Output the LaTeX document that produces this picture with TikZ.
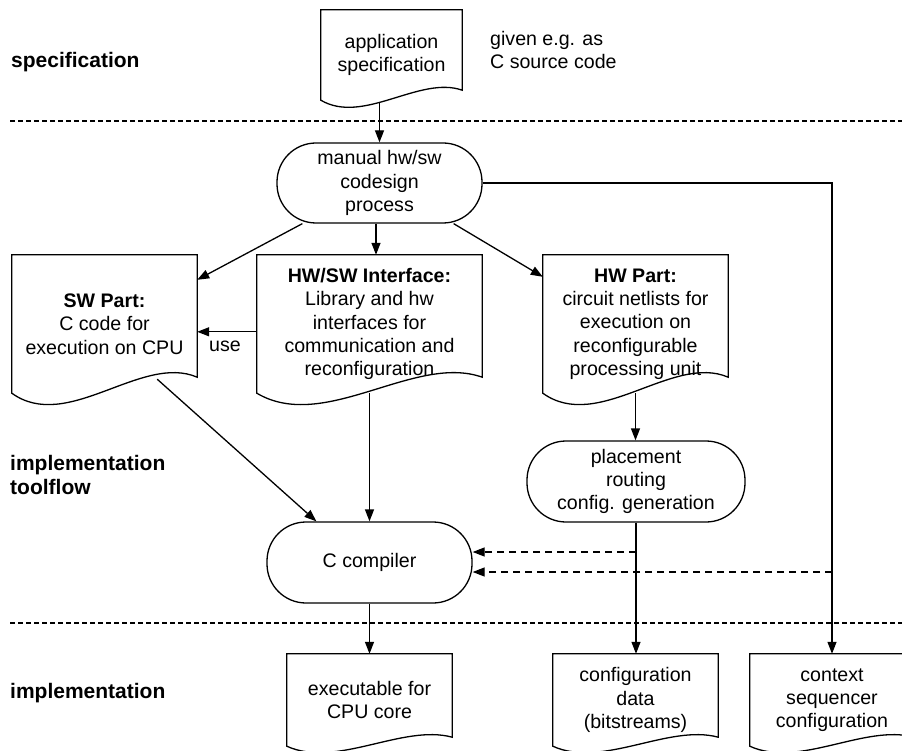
\documentclass[tikz,border=0pt]{standalone}
\usepackage{fontspec}
\setmainfont{Liberation Sans}
\usetikzlibrary{arrows.meta,calc}

% outline of a "document" node: straight top and sides, wavy bottom edge;
% #2 is how much higher the right end of the wave sits than the left end
\newcommand\docoutline[2]{%
  \draw[line width=1.3pt, line join=miter]
    (#1.south west) -- (#1.north west) -- (#1.north east)
    -- ($(#1.south east)+(0,-#2)$)
    .. controls ($(#1.south west)!0.7!(#1.south east)+(0,-2.5*#2)$)
           and ($(#1.south west)!0.3!(#1.south east)+(0,2.5*#2)$)
    .. (#1.south west) -- cycle;}

\begin{document}
\begin{tikzpicture}[x=1pt,y=-1pt,
  every node/.style={font=\fontsize{19.6}{23.3}\selectfont, align=center, inner sep=0pt},
  lbl/.style={font=\fontsize{21}{24}\selectfont\bfseries, align=left, anchor=west},
  note/.style={align=left, anchor=west},
  proc/.style={draw, line width=1.3pt, rounded corners=39pt,
               minimum width=#1, minimum height=81pt},
  doc/.style={minimum width=#1},
  conn/.style={line width=1.3pt, -{Triangle[length=12pt,width=9pt]}},
  dconn/.style={conn, dash pattern=on 7pt off 5pt},
  sep/.style={line width=1.2pt, dash pattern=on 5pt off 3pt}]

\useasboundingbox (0,0) rectangle (902,751);
\fill[white] (0,0) rectangle (902,751);
\clip (0,0) rectangle (902,751);

% phase labels and separators
\node[lbl] (lspec) at (11,62) {specification};
\node[lbl] (ltool) at (10,475) {implementation\\toolflow};
\node[lbl] (limpl) at (10,693) {implementation};
\draw[sep] (10,121) -- (902,121);
\draw[sep] (10,623) -- (902,623);

% specification
\node[doc=141pt, minimum height=90pt] (app) at (391.5,55) {application\\specification};
\docoutline{app}{10}
\node[note] (given) at (490,50) {given e.g. as\\C source code};

% codesign
\node[proc=205pt, minimum height=80pt] (man) at (379.5,183) {manual hw/sw\\codesign\\process};

\node[doc=185pt, minimum height=138pt] (sw) at (104.5,324)
  {\textbf{SW Part:}\\C code for\\execution on CPU};
\docoutline{sw}{16}
\node[doc=225pt, minimum height=138pt] (hwsw) at (369.5,324)
  {\textbf{HW/SW Interface:}\\Library and hw\\interfaces for\\communication and\\reconfiguration};
\docoutline{hwsw}{16}
\node[doc=185pt, minimum height=138pt] (hw) at (635.5,324)
  {\textbf{HW Part:}\\circuit netlists for\\execution on\\reconfigurable\\processing unit};
\docoutline{hw}{16}
\node (use) at (225,346) {use};

% tool flow
\node[proc=218pt] (pl) at (636,481.5) {placement\\routing\\config. generation};
\node[proc=205pt] (cc) at (369.5,562.5) {C compiler};

% results
\node[doc=165pt, minimum height=92pt] (exe) at (369.5,700) {executable for\\CPU core};
\docoutline{exe}{9}
\node[doc=165pt, minimum height=92pt] (cfg) at (635.5,700) {configuration\\data\\(bitstreams)};
\docoutline{cfg}{9}
\node[doc=164pt, minimum height=92pt] (ctx) at (832,700) {context\\sequencer\\configuration};
\docoutline{ctx}{9}

% connectors
\coordinate (m1) at ([xshift=-3.5pt]man.south);
\coordinate (d1) at (636,552);
\coordinate (d2) at (832,572);

\draw[conn] ([yshift=-3pt]app.south -| man.north) -- (man.north);
\draw[conn] ([xshift=26pt]man.south west) -- ([yshift=-25pt]sw.north east);
\draw[conn] (m1) -- (m1 |- hwsw.north);
\draw[conn] ([xshift=-29pt]man.south east) -- ([yshift=-22pt]hw.north west);
\draw[conn] ([yshift=-77pt]hwsw.north west) -- ([yshift=-77pt]sw.north east);
\draw[conn] ([xshift=-40pt,yshift=14pt]sw.south east) -- ([xshift=50pt]cc.north west);
\draw[conn] (hwsw.south) -- (cc.north);
\draw[conn] (hw.south) -- (hw.south |- pl.north);
\draw[conn] (pl.south) -- (pl.south |- cfg.north);
\draw[conn] (cc.south) -- (exe.north);
\draw[conn] (man.east) -- (man.east -| ctx.north) -- (ctx.north);
\draw[dconn] (d1) -- (d1 -| cc.east);
\draw[dconn] (d2) -- (d2 -| cc.east);
\end{tikzpicture}
\end{document}
